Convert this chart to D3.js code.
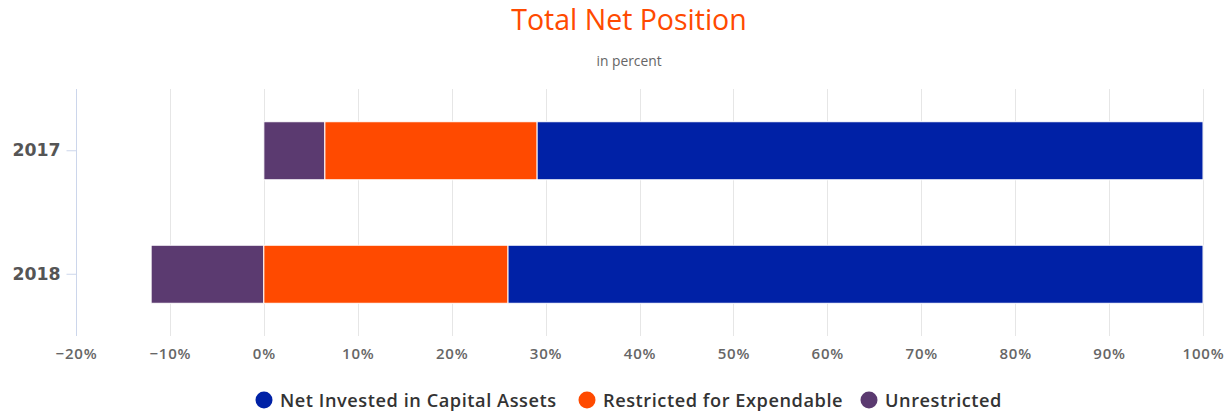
<!DOCTYPE html>
<html><head><meta charset="utf-8">
<script src="https://cdn.jsdelivr.net/npm/d3@7"></script>
<style>body{margin:0;background:#fff}svg{display:block}</style>
</head><body><svg id="c" width="1231" height="412"></svg>
<script>
const categories = ["2017", "2018"];
const seriesNames = ["Net Invested in Capital Assets", "Restricted for Expendable", "Unrestricted"];
const netInvested = [70.9, 74.0];
const restricted = [22.6, 26.0];
const unrestricted = [6.5, -12.0];
const xTicks = [-20, -10, 0, 10, 20, 30, 40, 50, 60, 70, 80, 90, 100];
const colors = ["#0021a6", "#ff4a00", "#5b3a70"];

const svg = d3.select("#c");
const W = 1231, H = 412;
const m = {l: 76, r: 28, t: 89, b: 76};
const font = "'Open Sans', sans-serif";

const x = d3.scaleLinear().domain([-20, 100]).range([m.l, W - m.r]);
const y = d3.scaleBand().domain(categories).range([m.t, H - m.b]).paddingInner(0.53).paddingOuter(0.265);

// title
svg.append("text").attr("x", 629).attr("y", 30).attr("text-anchor", "middle")
  .attr("font-family", font).attr("font-size", 28.5).attr("fill", "#ff4a00").text("Total Net Position");
svg.append("text").attr("x", 629).attr("y", 66).attr("text-anchor", "middle")
  .attr("font-family", font).attr("font-size", 13.8).attr("fill", "#666").text("in percent");

// grid
svg.append("g").selectAll("line").data(xTicks.filter(d => d !== -20)).join("line")
  .attr("x1", d => Math.round(x(d)) + 0.5).attr("x2", d => Math.round(x(d)) + 0.5)
  .attr("y1", m.t).attr("y2", H - m.b).attr("stroke", "#e6e6e6");

// x axis labels
const xa = svg.append("g").attr("transform", `translate(0,${H - m.b})`)
  .call(d3.axisBottom(x).tickValues(xTicks).tickSize(0).tickPadding(12).tickFormat(d => (d < 0 ? "\u2212" + (-d) : d) + "%"));
xa.select(".domain").remove();
xa.selectAll("text").attr("font-family", font).attr("font-size", 15).attr("letter-spacing", 0.8).attr("font-weight", 600).attr("fill", "#666");

// y axis
const ya = svg.append("g").attr("transform", `translate(${m.l + 0.5},0)`)
  .call(d3.axisLeft(y).tickSize(10).tickPadding(6));
ya.select(".domain").attr("stroke", "#ccd6eb").attr("d", `M0,${m.t}V${H - m.b}`);
ya.selectAll(".tick line").attr("stroke", "#ccd6eb");
ya.selectAll("text").attr("font-family", "'DejaVu Sans', sans-serif").attr("font-size", 17.3).attr("font-weight", 600).attr("fill", "#555");

// bars
const rows = categories.map((c, i) => ({cat: c, vals: [netInvested[i], restricted[i], unrestricted[i]]}));
const segs = [];
rows.forEach(r => {
  let pos = 0, neg = 0;
  for (let s = 2; s >= 0; s--) {
    const v = r.vals[s];
    if (v >= 0) { segs.push({cat: r.cat, s, x0: pos, x1: pos + v}); pos += v; }
    else { segs.push({cat: r.cat, s, x0: neg + v, x1: neg}); neg += v; }
  }
});
svg.append("g").selectAll("rect").data(segs).join("rect")
  .attr("x", d => x(d.x0)).attr("width", d => x(d.x1) - x(d.x0))
  .attr("y", d => y(d.cat)).attr("height", y.bandwidth())
  .attr("fill", d => colors[d.s]).attr("stroke", "#fff").attr("stroke-width", 1);

// legend
const legendX = [264, 587, 869];
const lg = svg.append("g");
seriesNames.forEach((n, i) => {
  lg.append("circle").attr("cx", legendX[i]).attr("cy", 400).attr("r", 8.5).attr("fill", colors[i]);
  lg.append("text").attr("x", legendX[i] + 16).attr("y", 406.5)
    .attr("font-family", font).attr("font-size", 18.2).attr("letter-spacing", 0.55).attr("font-weight", 600).attr("fill", "#333").text(n);
});
</script></body></html>
